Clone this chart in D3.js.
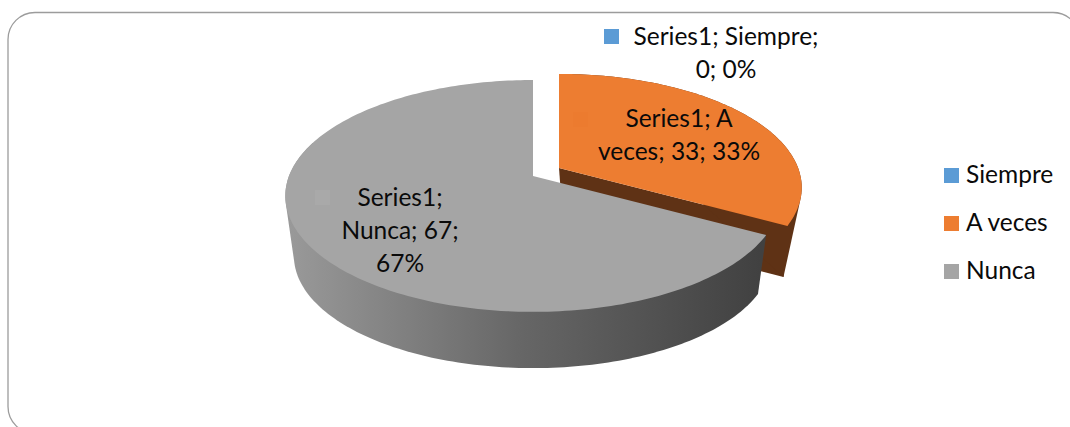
<!DOCTYPE html>
<html>
<head>
<meta charset="utf-8">
<script src="https://cdn.jsdelivr.net/npm/d3@7"></script>
<style>
  html, body { margin: 0; padding: 0; background: #fff; overflow: hidden; }
  text { font-family: Lato, "Open Sans", sans-serif; fill: #0a0a0a; }
</style>
</head>
<body>
<svg id="chart" width="1070" height="427"></svg>
<script>
const categories = ["Siempre", "A veces", "Nunca"];
const values = [0, 33, 67];
const percents = [0, 33, 67];
const seriesName = "Series1";
// how many words go on each line of a data label
const labelWraps = [[2, 2], [2, 4], [1, 2, 1]];

const colors = ["#5b9bd5", "#ed7d31", "#a5a5a5"];
const keyColors = ["#5b9bd5", "#ec7b2f", "#a9a9a9"];
const sideColors = [null, "#5f3215", null];

const width = 1070;
const height = 427;
const fontSize = 24.5;
const lineHeight = 33;

// one disc for each slice: where the centre lands and how it is scaled
const persp = 0.172, rx = 244, ry = 112.5;
const discs = [
  { top: [533, 176], bottom: [533, 237], s: 1 },
  { top: [559, 168], bottom: [563, 221], s: 0.98 },
  { top: [533, 176], bottom: [533, 237], s: 1 }
];
const sideScale = 0.965;

// label placement per slice
const labelPos = [[726, 45], [679, 127], [400, 206]];
const keyPos = [[604, 29], [573, 112], [315, 190]];

const svg = d3.select("#chart");

const defs = svg.append("defs");
const grad = defs.append("linearGradient")
  .attr("id", "graySide")
  .attr("gradientUnits", "userSpaceOnUse")
  .attr("x1", 285).attr("x2", 760).attr("y1", 0).attr("y2", 0);
grad.append("stop").attr("offset", 0).attr("stop-color", "#9a9a9a");
grad.append("stop").attr("offset", 0.5).attr("stop-color", "#666666");
grad.append("stop").attr("offset", 1).attr("stop-color", "#414141");

// chart frame, runs off the right and bottom of the picture
svg.append("rect")
  .attr("x", 8).attr("y", 12.5)
  .attr("width", 1072).attr("height", 421)
  .attr("rx", 27).attr("ry", 27)
  .attr("fill", "#fff")
  .attr("stroke", "#9c9c9c")
  .attr("stroke-width", 1.3);

const pie = d3.pie().sort(null).value(d => d)(values);

// circle point at angle a, seen in perspective
function project(a, origin, s) {
  const y = -Math.cos(a);
  const w = 1 - persp * y;
  return [origin[0] + s * rx * Math.sin(a) / w, origin[1] + s * ry * y / w];
}

function rim(a0, a1, origin, s) {
  const n = Math.max(2, Math.ceil((a1 - a0) / 0.02));
  return d3.range(n + 1).map(i => project(a0 + (a1 - a0) * i / n, origin, s));
}

const line = d3.line();

function topPath(d, disc) {
  return line([disc.top].concat(rim(d.startAngle, d.endAngle, disc.top, disc.s))) + "Z";
}

// outer side as the hull of both rims, only the part facing the viewer
function sidePath(d, disc, tipOnly) {
  const a1 = Math.min(d.endAngle, 1.6 * Math.PI);
  const upper = rim(d.startAngle, a1, disc.top, disc.s);
  const lower = tipOnly
    ? [project(d.endAngle, disc.bottom, disc.s * sideScale)]
    : rim(d.startAngle, a1, disc.bottom, disc.s * sideScale);
  return line(d3.polygonHull(upper.concat(lower))) + "Z";
}

function wallPath(d, disc) {
  const a = d.endAngle;
  return line([
    disc.top,
    project(a, disc.top, disc.s),
    project(a, disc.bottom, disc.s * sideScale),
    disc.bottom
  ]) + "Z";
}

// exploded orange slice goes first, the big grey one sits in front of it
categories.forEach((c, i) => {
  const d = pie[i], disc = discs[i];
  if (d.endAngle === d.startAngle) return;
  const side = sideColors[i] || "url(#graySide)";
  if (sideColors[i]) {
    svg.append("path").attr("d", wallPath(d, disc)).attr("fill", side);
  }
  svg.append("path").attr("d", sidePath(d, disc, !!sideColors[i])).attr("fill", side);
  svg.append("path").attr("d", topPath(d, disc)).attr("fill", colors[i]);
});

// data labels with their little keys
categories.forEach((c, i) => {
  const words = `${seriesName}; ${c}; ${values[i]}; ${percents[i]}%`.split(" ");
  let w = 0;
  labelWraps[i].forEach((n, k) => {
    svg.append("text")
      .attr("x", labelPos[i][0])
      .attr("y", labelPos[i][1] + k * lineHeight)
      .attr("text-anchor", "middle")
      .attr("font-size", fontSize)
      .text(words.slice(w, w + n).join(" "));
    w += n;
  });
  svg.append("rect")
    .attr("x", keyPos[i][0]).attr("y", keyPos[i][1])
    .attr("width", 15).attr("height", 15)
    .attr("fill", keyColors[i]);
});

// legend
const legendY = d3.scalePoint().domain(categories).range([168, 264]);
const legend = svg.append("g");
categories.forEach((c, i) => {
  legend.append("rect")
    .attr("x", 944).attr("y", legendY(c))
    .attr("width", 15).attr("height", 15)
    .attr("fill", colors[i]);
  legend.append("text")
    .attr("x", 966).attr("y", legendY(c) + 15)
    .attr("font-size", fontSize)
    .text(c);
});
</script>
</body>
</html>
